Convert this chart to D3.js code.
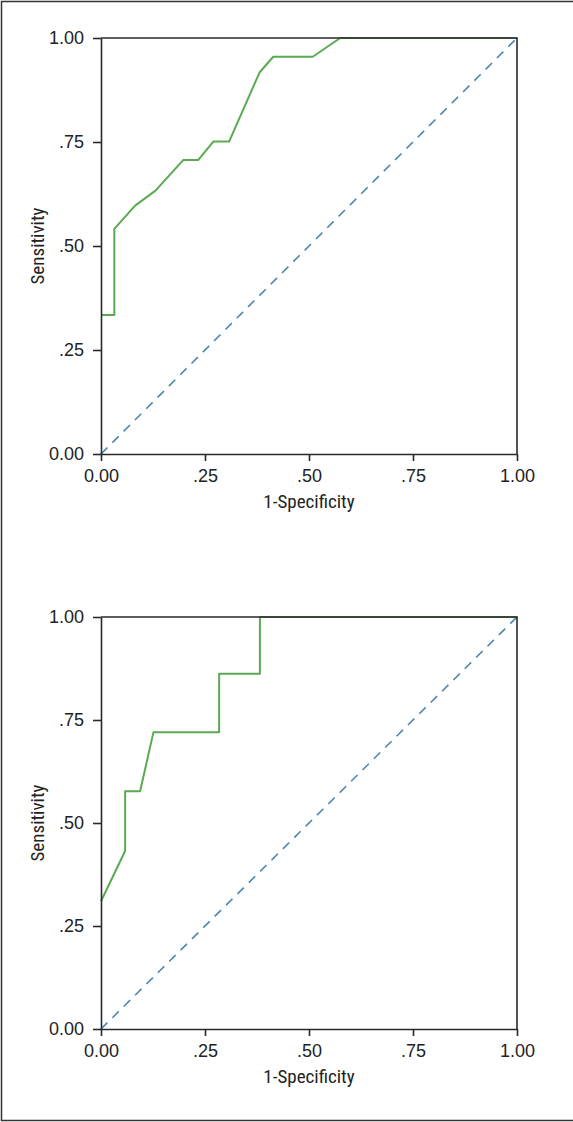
<!DOCTYPE html>
<html><head><meta charset="utf-8">
<script src="https://cdn.jsdelivr.net/npm/d3@7"></script>
<style>
html,body{margin:0;padding:0;background:#fff;}
svg{display:block;}
text{font-family:"Liberation Sans Narrow","Arial Narrow","Roboto Condensed","Liberation Sans",sans-serif;fill:#222;}
</style></head>
<body><svg id="c" width="573" height="1122"></svg>
<script>
const tickValues = [0, 0.25, 0.5, 0.75, 1];
const tickLabels = ["0.00", ".25", ".50", ".75", "1.00"];
const xTitle = "1-Specificity";
const yTitle = "Sensitivity";

// ROC curve 1 (top panel)
const roc1X = [0, 0.032, 0.032, 0.082, 0.131, 0.198, 0.234, 0.270, 0.308, 0.381, 0.414, 0.509, 0.575, 1];
const roc1Y = [0.334, 0.334, 0.541, 0.597, 0.633, 0.707, 0.707, 0.751, 0.751, 0.917, 0.955, 0.955, 1, 1];

// ROC curve 2 (bottom panel)
const roc2X = [0, 0.058, 0.058, 0.094, 0.126, 0.284, 0.284, 0.382, 0.382, 1];
const roc2Y = [0.31, 0.432, 0.577, 0.577, 0.72, 0.72, 0.862, 0.862, 1, 1];

const refX = [0, 1];
const refY = [0, 1];

const svg = d3.select("#c");

// outer frame (left, top, bottom)
svg.append("path")
  .attr("d", "M573,1.5 H1.5 V1120.5 H573")
  .attr("fill", "none").attr("stroke", "#333").attr("stroke-width", 1.5);

const fontStack = '"Liberation Sans Narrow","Arial Narrow","Liberation Sans",sans-serif';

function panel(top, bottom, xs, ys) {
  const left = 101, right = 517;
  const x = d3.scaleLinear().domain([0, 1]).range([left, right]);
  const y = d3.scaleLinear().domain([0, 1]).range([bottom, top]);
  const g = svg.append("g");

  const line = d3.line().x(d => x(d[0])).y(d => y(d[1]));
  g.append("path").datum(refX.map((v, i) => [v, refY[i]]))
    .attr("d", line).attr("fill", "none").attr("stroke", "#4f86b0")
    .attr("stroke-width", 1.6).attr("stroke-dasharray", "9,7");
  g.append("path").datum(xs.map((v, i) => [v, ys[i]]))
    .attr("d", line).attr("fill", "none").attr("stroke", "#5aaa52")
    .attr("stroke-width", 2).attr("stroke-linejoin", "round");

  // frame top and right (drawn over the curve)
  g.append("path")
    .attr("d", `M${left},${top} H${right} V${bottom}`)
    .attr("fill", "none").attr("stroke", "#2a2a2a").attr("stroke-width", 1.6);

  const xAxis = g.append("g").attr("transform", `translate(0,${bottom})`)
    .call(d3.axisBottom(x).tickValues(tickValues).tickFormat((d, i) => tickLabels[i]).tickSize(7).tickSizeOuter(0).tickPadding(8));
  const yAxis = g.append("g").attr("transform", `translate(${left},0)`)
    .call(d3.axisLeft(y).tickValues(tickValues).tickFormat((d, i) => tickLabels[i]).tickSize(8).tickSizeOuter(0).tickPadding(9));
  [xAxis, yAxis].forEach(a => {
    a.select(".domain").attr("stroke", "#2a2a2a").attr("stroke-width", 1.6);
    a.selectAll(".tick line").attr("stroke", "#2a2a2a").attr("stroke-width", 1.6);
    a.selectAll(".tick text").attr("font-size", 18).attr("fill", "#222")
      .style("font-family", fontStack);
  });

  g.append("text").attr("x", (left + right) / 2).attr("y", bottom + 54)
    .attr("text-anchor", "middle").attr("font-size", 19).text(xTitle);
  g.append("text")
    .attr("transform", `translate(44,${(top + bottom) / 2}) rotate(-90)`)
    .attr("text-anchor", "middle").attr("font-size", 19).text(yTitle);
}

panel(38, 454, roc1X, roc1Y);
panel(617, 1029, roc2X, roc2Y);
</script></body></html>
